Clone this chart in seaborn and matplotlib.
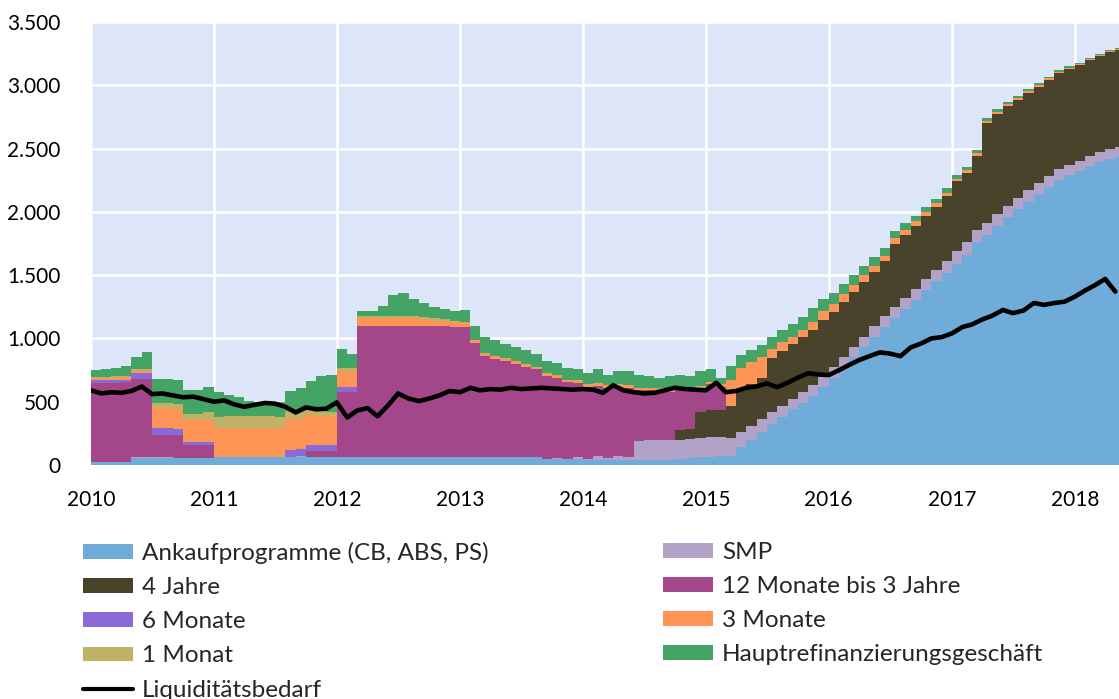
import numpy as np
import pandas as pd
import matplotlib
matplotlib.use("Agg")
import matplotlib.pyplot as plt
import matplotlib.ticker as mticker
from matplotlib.patches import Patch
from matplotlib.lines import Line2D
import seaborn as sns

# Monatswerte (Mrd. EUR), Jan 2010 bis Mai 2018
months = pd.date_range("2010-01-01", periods=101, freq="MS")

ankauf = ([25, 25, 25, 25, 55, 55, 55, 55, 55, 55, 55, 55]
          + [60, 60, 60, 60, 60, 60, 60, 60, 60, 60, 60, 60]
          + [60, 60, 60, 60, 60, 60, 60, 60, 60, 60, 60, 60]
          + [60, 60, 60, 60, 60, 60, 60, 60, 45, 45, 45, 45]
          + [40, 40, 40, 40, 40, 40, 40, 40, 40, 45, 55, 60]
          + [65, 75, 75, 140, 200, 260, 320, 380, 440, 490, 545, 620]
          + [690, 770, 850, 930, 1010, 1090, 1160, 1230, 1300, 1380, 1450, 1520]
          + [1590, 1660, 1760, 1820, 1890, 1960, 2020, 2080, 2140, 2200, 2250, 2290]
          + [2320, 2360, 2390, 2420, 2435])

smp = ([0, 0, 0, 0, 5, 5, 5, 5, 0, 0, 0, 0]
       + [0, 0, 0, 0, 0, 0, 0, 0, 10, 0, 0, 0]
       + [0, 0, 0, 0, 0, 0, 0, 0, 0, 0, 0, 0]
       + [0, 0, 0, 0, 0, 0, 0, 0, 0, 10, 0, 20]
       + [10, 30, 15, 30, 20, 150, 155, 155, 155, 155, 150, 150]
       + [160, 150, 135, 120, 110, 100, 95, 90, 85, 85, 85, 85]
       + [85, 85, 85, 85, 85, 90, 90, 90, 90, 90, 90, 95]
       + [100, 100, 95, 95, 95, 90, 90, 90, 85, 85, 85, 80]
       + [80, 80, 80, 80, 80])

vier_jahre = ([0] * 12 + [0] * 12 + [0] * 12 + [0] * 12
              + [0, 0, 0, 0, 0, 0, 0, 0, 0, 80, 80, 210]
              + [212, 212, 260, 330, 330, 330, 430, 430, 430, 440, 440, 440]
              + [430, 430, 430, 430, 430, 430, 500, 500, 500, 500, 500, 510]
              + [550, 550, 590, 790, 790, 785, 775, 770, 765, 760, 760, 760]
              + [760, 760, 760, 760, 760])

m12_3j = ([625, 625, 625, 630, 620, 620, 180, 180, 180, 100, 100, 100]
          + [0, 0, 0, 0, 0, 0, 0, 0, 0, 50, 50, 50]
          + [520, 520, 1035, 1035, 1035, 1035, 1035, 1035, 1035, 1035, 1035, 1030]
          + [1030, 900, 800, 780, 760, 740, 715, 695, 660, 635, 610, 585]
          + [570, 555, 555, 550, 545, 400, 395, 390, 385, 315, 300, 180]
          + [200, 180, 0, 0, 0, 0, 0, 0, 0, 0, 0, 0]
          + [0] * 12 + [0] * 12 + [0] * 5)

m6 = ([20, 20, 20, 20, 45, 45, 50, 50, 50, 30, 30, 30]
      + [0, 0, 0, 0, 0, 0, 0, 55, 55, 50, 50, 45]
      + [40, 40, 0, 0, 0, 0, 0, 0, 0, 0, 0, 0]
      + [0] * 12 + [0] * 12 + [0] * 12 + [0] * 12 + [0] * 12 + [0] * 5)

m3 = ([15, 15, 20, 20, 20, 20, 160, 160, 160, 170, 170, 170]
      + [230, 230, 230, 230, 230, 230, 230, 250, 250, 235, 230, 230]
      + [120, 120, 70, 70, 70, 70, 70, 70, 60, 45, 40, 40]
      + [30, 25, 20, 20, 18, 18, 15, 15, 15, 15, 15, 15]
      + [15, 15, 20, 15, 25, 15, 15, 15, 15, 20, 20, 20]
      + [20, 20, 200, 180, 170, 160, 75, 70, 60, 55, 60, 70]
      + [70, 65, 60, 55, 50, 45, 40, 40, 35, 30, 30, 25]
      + [20, 20, 20, 15, 15, 15, 12, 12, 12, 10, 10, 10]
      + [8, 8, 8, 8, 8])

m1 = ([10, 10, 10, 10, 10, 10, 40, 40, 40, 50, 50, 60]
      + [90, 95, 95, 95, 95, 95, 90, 60, 55, 50, 50, 30]
      + [25, 25, 10, 10, 10, 10, 10, 10, 15, 20, 15, 10]
      + [8, 6, 5, 5, 5, 5, 5, 5, 5, 5, 5, 5]
      + [5, 5, 5, 5, 5, 5, 5, 5, 5, 5, 5, 5]
      + [0] * 12 + [0] * 12 + [0] * 12 + [0] * 5)

hrg = ([55, 60, 65, 75, 100, 140, 190, 190, 185, 185, 190, 200]
       + [200, 170, 150, 120, 110, 110, 120, 160, 180, 220, 260, 300]
       + [150, 110, 40, 40, 80, 170, 180, 140, 110, 90, 80, 80]
       + [100, 110, 130, 125, 115, 110, 110, 105, 100, 95, 90, 85]
       + [90, 110, 80, 100, 110, 100, 90, 80, 100, 90, 90, 120]
       + [100, 50, 110, 100, 100, 100, 90, 95, 100, 100, 110, 100]
       + [85, 80, 75, 70, 65, 60, 55, 50, 45, 40, 35, 35]
       + [30, 28, 25, 22, 20, 18, 16, 15, 14, 13, 12, 12]
       + [10, 10, 10, 10, 10])

liquiditaet = ([590, 565, 575, 570, 585, 620, 560, 565, 550, 535, 540, 520]
               + [500, 510, 480, 460, 475, 490, 485, 460, 415, 455, 440, 445]
               + [495, 375, 430, 450, 385, 470, 565, 525, 505, 525, 550, 585]
               + [575, 610, 590, 600, 595, 610, 600, 605, 610, 605, 600, 595]
               + [600, 595, 570, 630, 590, 575, 565, 570, 590, 610, 600, 595]
               + [590, 650, 575, 585, 610, 620, 645, 615, 650, 690, 725, 715]
               + [710, 750, 790, 830, 860, 890, 880, 860, 930, 960, 1000, 1010]
               + [1040, 1090, 1110, 1150, 1180, 1225, 1200, 1220, 1280, 1265, 1280, 1290]
               + [1330, 1380, 1420, 1470, 1370])

labels = ["Ankaufprogramme (CB, ABS, PS)", "SMP", "4 Jahre", "12 Monate bis 3 Jahre",
          "6 Monate", "3 Monate", "1 Monat", "Hauptrefinanzierungsgeschäft"]
colors = ["#70acda", "#b3a2c8", "#4a432c", "#a3478a",
          "#8b6ad8", "#fe9456", "#c0b265", "#43a466"]
series = [ankauf, smp, vier_jahre, m12_3j, m6, m3, m1, hrg]

sns.set_theme(style="darkgrid")
plt.rcParams["font.family"] = ["Lato", "DejaVu Sans"]

fig = plt.figure(figsize=(11.19, 6.99), dpi=100)
ax = fig.add_axes([91 / 1119, 1 - 465 / 699, 1 - 91 / 1119, (465 - 22) / 699])
ax.set_facecolor("#dce6f8")

# Stufen bis zum rechten Rand fortführen
x_end = pd.Timestamp("2018-05-12")
x_steps = list(months) + [x_end]
y_steps = [list(s) + [s[-1]] for s in series]
ax.stackplot(x_steps, *y_steps, colors=colors, step="post", linewidth=0)

sns.lineplot(x=months, y=liquiditaet, color="black", linewidth=3.3, ax=ax)

ax.set_xlim(pd.Timestamp("2010-01-01"), x_end)
ax.set_ylim(0, 3500)
years = pd.date_range("2010-01-01", "2018-01-01", freq="YS")
ax.set_xticks(years)
ax.set_xticklabels([str(y.year) for y in years])
ax.yaxis.set_major_locator(mticker.MultipleLocator(500))
ax.yaxis.set_major_formatter(mticker.FuncFormatter(lambda v, p: f"{v:,.0f}".replace(",", ".")))
ax.grid(True, color="white", linewidth=1.8)
ax.set_axisbelow(True)
for s in ax.spines.values():
    s.set_visible(False)
ax.tick_params(axis="both", length=0, labelsize=15, colors="black")
ax.tick_params(axis="x", pad=18)
ax.tick_params(axis="y", pad=22)
ax.set_xlabel("")
ax.set_ylabel("")

handles = [Patch(facecolor=c, edgecolor="none") for c in colors]
line_handle = Line2D([], [], color="black", linewidth=3)
left_h = [handles[0], handles[2], handles[4], handles[6], line_handle]
left_l = [labels[0], labels[2], labels[4], labels[6], "Liquiditätsbedarf"]
right_h = [handles[1], handles[3], handles[5], handles[7]]
right_l = [labels[1], labels[3], labels[5], labels[7]]

leg_kw = dict(loc="upper left", frameon=False, fontsize=17.5, handlelength=2.05,
              handleheight=0.55, handletextpad=0.37, labelspacing=0.54,
              borderpad=0, borderaxespad=0)
fig.legend(left_h, left_l, bbox_to_anchor=(83 / 1119, 1 - 542 / 699), **leg_kw)
fig.legend(right_h, right_l, bbox_to_anchor=(663 / 1119, 1 - 542 / 699), **leg_kw)

fig.savefig("out.png", dpi=100)
